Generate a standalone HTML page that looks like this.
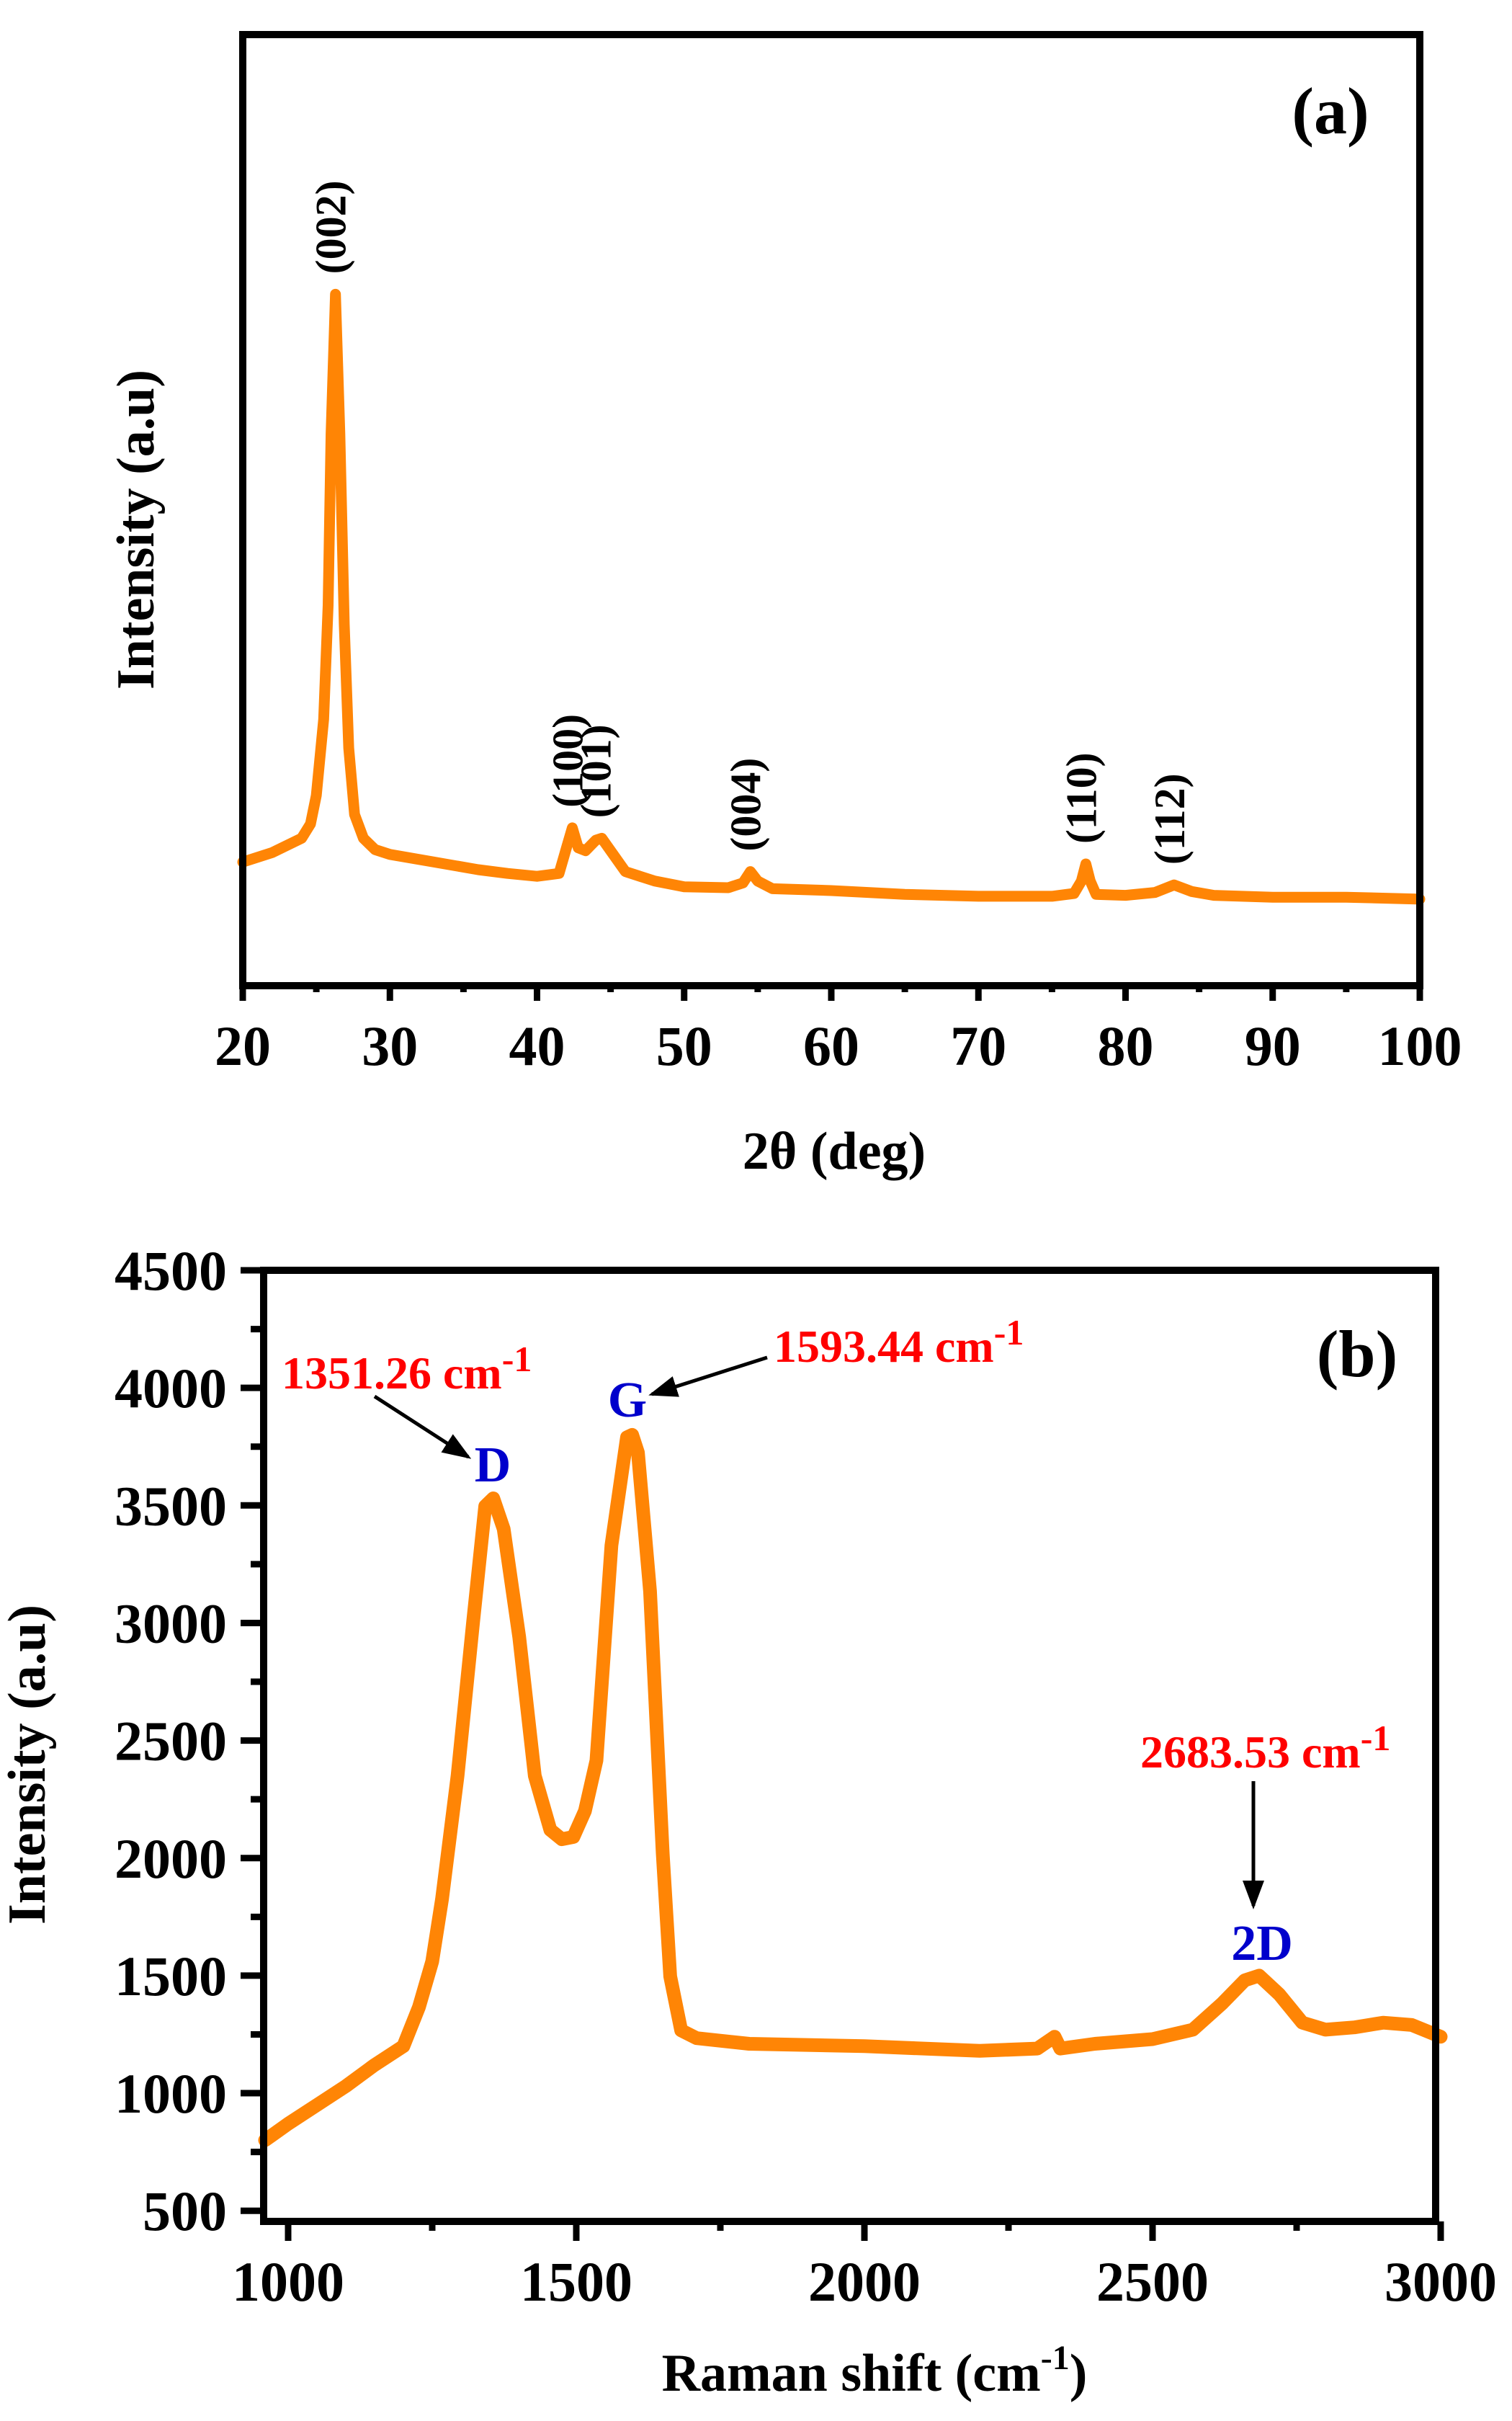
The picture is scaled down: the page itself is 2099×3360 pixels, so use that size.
<!DOCTYPE html>
<html><head><meta charset="utf-8"><style>
html,body{margin:0;padding:0;background:#fff;}
svg{display:block;font-family:"Liberation Serif",serif;font-weight:bold;}
</style></head><body>
<svg id="fig" width="2099" height="3360" viewBox="0 0 2099 3360" xmlns="http://www.w3.org/2000/svg">
<defs><marker id="ah" markerWidth="8" markerHeight="8" refX="7" refY="4" orient="auto" markerUnits="strokeWidth"><path d="M0,1 L8,4 L0,7 Z" fill="#000"/></marker></defs>
<g id="pa"></g>
<g id="pb"></g>
</svg>
<script>
// ---- XRD data (panel a) ----
const xrdX=[20,22,24,24.6,25.0,25.5,25.8,26.0,26.3,26.6,26.9,27.2,27.6,28.2,29,30,33,36,38,40,41.5,42,42.4,42.8,43.3,44,44.4,45,46,48,50,53,54,54.5,55,56,60,65,70,75,76.5,77,77.3,77.6,78,80,82,83.3,84.5,86,90,95,100];
const xrdY=[13.0,14.0,15.5,17,20,28,40,58,72.7,58,38,25,18,15.5,14.3,13.8,13.0,12.2,11.8,11.5,11.8,14.5,16.6,14.5,14.2,15.3,15.5,14.2,12.0,11.0,10.4,10.3,10.8,12.0,11.0,10.2,10.0,9.6,9.4,9.4,9.7,11.0,12.8,11.0,9.6,9.5,9.8,10.6,9.9,9.5,9.3,9.3,9.1];
const xrdTicks=[20,30,40,50,60,70,80,90,100];
const xrdPeakLabels=["(002)","(100)","(101)","(004)","(110)","(112)"];
const xrdPeakPos=[26.3,42.4,44.3,54.5,77.3,83.3];
const xrdPeakH=[72.7,16.6,15.5,12.0,12.8,10.6];
// ---- Raman data (panel b) ----
const ramX=[960,1000,1050,1100,1150,1200,1227,1250,1267,1294,1321,1342,1356,1374,1401,1428,1455,1475,1495,1515,1535,1561,1588,1597,1607,1628,1650,1663,1682,1709,1800,2000,2200,2300,2330,2340,2400,2500,2570,2620,2660,2685,2720,2760,2800,2850,2900,2950,3000];
const ramY=[800,870,950,1030,1120,1200,1366,1560,1825,2350,3005,3497,3530,3400,2940,2350,2120,2080,2090,2200,2415,3330,3790,3800,3725,3135,2020,1497,1267,1234,1210,1200,1180,1190,1240,1190,1210,1230,1270,1380,1480,1500,1420,1300,1270,1280,1300,1290,1240];
const ramYTicks=[500,1000,1500,2000,2500,3000,3500,4000,4500];
const ramXTicks=[1000,1500,2000,2500,3000];

const NS="http://www.w3.org/2000/svg";
function mk(parent,tag,attrs,text){const e=document.createElementNS(NS,tag);for(const k in attrs)e.setAttribute(k,attrs[k]);if(text!==undefined)e.textContent=text;parent.appendChild(e);return e;}
const ORANGE="#ff8505";

// ===== Panel A =====
const pa=document.getElementById('pa');
const aL=337,aR=1971,aT=48,aB=1368;
const ax=v=>aL+(v-20)/80*(aR-aL);
const ay=v=>aB-v/100*(aB-aT);
let e;
let d=xrdX.map((x,i)=>(i?'L':'M')+ax(x).toFixed(1)+','+ay(xrdY[i]).toFixed(1)).join(' ');
e=mk(pa,'path',{d:d,fill:'none',stroke:ORANGE,'stroke-width':15,'stroke-linejoin':'round','stroke-linecap':'round'});


for(let v=20;v<=100;v+=5){const major=v%10===0;
 e=mk(pa,'line',{x1:ax(v),x2:ax(v),y1:aB,y2:aB+(major?21:9),stroke:'#000','stroke-width':9});
 
 }
xrdTicks.forEach(v=>{e=mk(pa,'text',{x:ax(v),y:1478,'text-anchor':'middle','font-size':78},String(v));
 
 });
e=mk(pa,'rect',{x:aL,y:aT,width:aR-aL,height:aB-aT,fill:'none',stroke:'#000','stroke-width':10});


xrdPeakLabels.forEach((t,i)=>{const x=ax(xrdPeakPos[i])+14,y=ay(xrdPeakH[i])-28;
 e=mk(pa,'text',{x:x,y:y,transform:`rotate(-90 ${x} ${y})`,'font-size':60},t);
 
 });
e=mk(pa,'text',{x:1847,y:185,'text-anchor':'middle','font-size':92},'(a)');


e=mk(pa,'text',{x:1158,y:1622,'text-anchor':'middle','font-size':74},'2θ (deg)');


e=mk(pa,'text',{x:213,y:735,'text-anchor':'middle','font-size':74,transform:'rotate(-90 213 735)'},'Intensity (a.u)');



// ===== Panel B =====
const pb=document.getElementById('pb');
const bL=366,bR=1993,bT=1763,bB=3083;
const bx=v=>400+(v-1000)*0.8;
const by=v=>1763+(4500-v)*0.3263;
d=ramX.map((x,i)=>(i?'L':'M')+bx(x).toFixed(1)+','+by(ramY[i]).toFixed(1)).join(' ');
e=mk(pb,'path',{d:d,fill:'none',stroke:ORANGE,'stroke-width':19,'stroke-linejoin':'round','stroke-linecap':'round'});


for(let v=500;v<=4500;v+=250){const major=v%500===0;
 e=mk(pb,'line',{x1:bL-(major?32:18),x2:bL,y1:by(v),y2:by(v),stroke:'#000','stroke-width':9});
 
 }
ramYTicks.forEach(v=>{e=mk(pb,'text',{x:315,y:by(v)+27,'text-anchor':'end','font-size':78},String(v));
 
 });
for(let v=1000;v<=3000;v+=250){const major=v%500===0;
 e=mk(pb,'line',{x1:bx(v),x2:bx(v),y1:bB,y2:bB+(major?27:13),stroke:'#000','stroke-width':9});
 
 }
ramXTicks.forEach(v=>{e=mk(pb,'text',{x:bx(v),y:3193,'text-anchor':'middle','font-size':78},String(v));
 
 });
e=mk(pb,'rect',{x:bL,y:bT,width:bR-bL,height:bB-bT,fill:'none',stroke:'#000','stroke-width':10});


e=mk(pb,'text',{x:1884,y:1910,'text-anchor':'middle','font-size':92},'(b)');


e=mk(pb,'text',{x:1214,y:3318,'text-anchor':'middle','font-size':74},'Raman shift (cm');


const xt=e;
mk(xt,'tspan',{'font-size':48,dy:-30},'-1');
mk(xt,'tspan',{dy:30},')');
e=mk(pb,'text',{x:62,y:2449,'text-anchor':'middle','font-size':74,transform:'rotate(-90 62 2449)'},'Intensity (a.u)');


// annotations
function ann(x,y,t,name){const el=mk(pb,'text',{x:x,y:y,fill:'#ff0000','font-size':64},t+' cm');
 
 
 mk(el,'tspan',{dy:-24,'font-size':50},'-1');return el;}
ann(391,1927,'1351.26','d-band-annotation');
ann(1074,1890,'1593.44','g-band-annotation');
ann(1583,2453,'2683.53','2d-band-annotation');
function arrow(x1,y1,x2,y2){const a=mk(pb,'line',{x1:x1,y1:y1,x2:x2,y2:y2,stroke:'#000','stroke-width':5,'marker-end':'url(#ah)'});
 
 }
arrow(520,1938,650,2022);
arrow(1065,1884,905,1935);
arrow(1740,2472,1740,2645);
function band(x,y,t,name){const el=mk(pb,'text',{x:x,y:y,fill:'#0000cc','font-size':70,'text-anchor':'middle'},t);
 
 }
band(684,2056,'D','d-band-label');
band(871,1966,'G','g-band-label');
band(1752,2720,'2D','2d-band-label');
</script>
</body></html>
